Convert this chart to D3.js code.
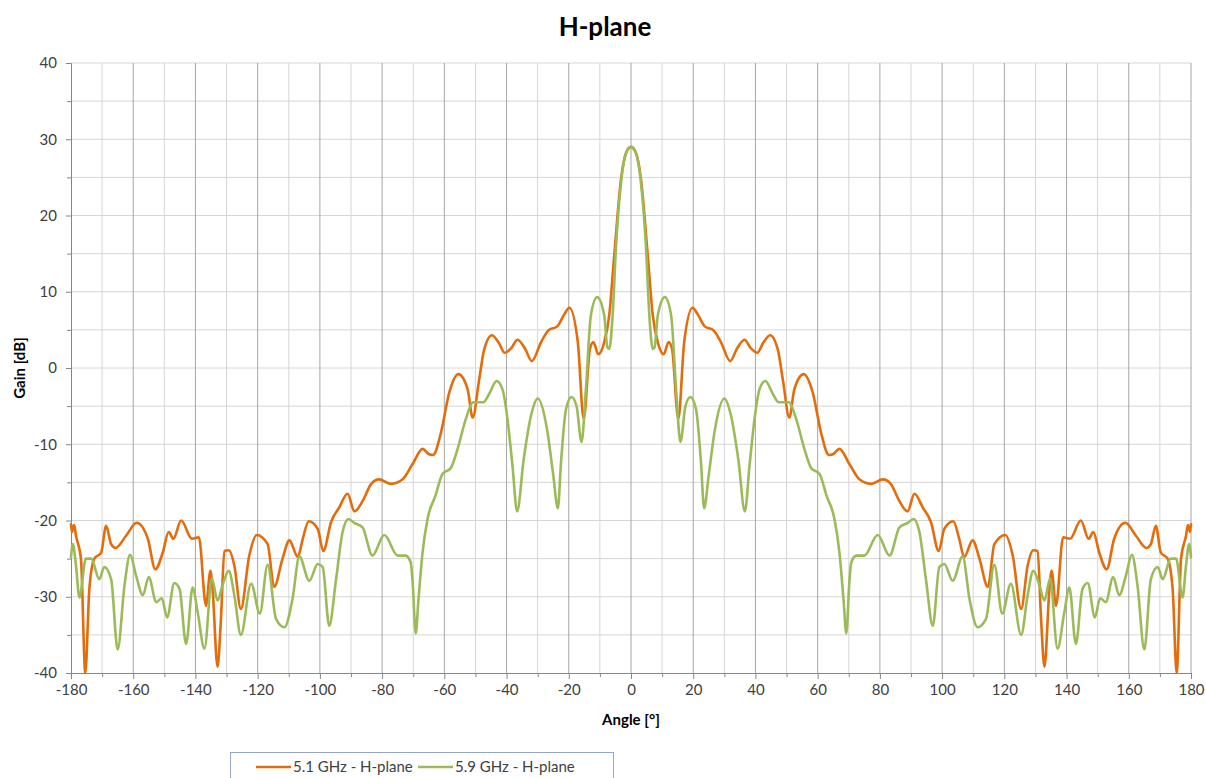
<!DOCTYPE html>
<html>
<head>
<meta charset="utf-8">
<script src="https://cdn.jsdelivr.net/npm/d3@7"></script>
<style>
  html, body { margin: 0; padding: 0; background: #fff; }
  svg { display: block; }
  text { font-family: Lato, "Open Sans", sans-serif; }
</style>
</head>
<body>
<svg id="chart" width="1206" height="778"></svg>
<script>
// ---------------- DATA ----------------
const chartTitle = "H-plane";
const xAxisTitle = "Angle [°]";
const yAxisTitle = "Gain [dB]";
const seriesNames = ["5.1 GHz - H-plane", "5.9 GHz - H-plane"];

const xTicks = [-180, -160, -140, -120, -100, -80, -60, -40, -20, 0, 20, 40, 60, 80, 100, 120, 140, 160, 180];
const yTicks = [-40, -30, -20, -10, 0, 10, 20, 30, 40];

// 5.1 GHz series
const angles51 = [
  -180, -179.7, -179, -178.4, -176.8, -175.4, -174.1, -172.5, -170.3, -168.7,
  -167.1, -165.7, -162.3, -158.9, -155.3, -152.9, -150.5, -148.6, -147.1, -144.6,
  -141.1, -138.9, -136.6, -135.2, -134.5, -132.9, -131.8, -130.7, -129.3, -127.5,
  -125.4, -122.7, -120.3, -116.8, -114.7, -112, -109.8, -107.1, -105.5, -103.6,
  -100.7, -98.9, -96.4, -93.8, -91.1, -88.9, -86.2, -83.5, -81, -77.2,
  -73.4, -70.2, -67, -64.9, -63.6, -61.1, -58.4, -55.5, -52.5, -50.9,
  -48.8, -47.2, -44.7, -42.5, -40.6, -38.5, -36.5, -34, -31.9, -28.9,
  -26.6, -23.6, -21.5, -19.8, -17.1, -15.2, -13.2, -12.1, -10.5, -8.6,
  -7, -5.4, -3.2, -1.5,
  0, 1.5, 3.2, 5.4, 7, 8.6, 10.5, 12.1, 13.2, 15.2,
  17.1, 19.8, 21.5, 23.6, 26.6, 28.9, 31.9, 34, 36.5, 38.5,
  40.6, 42.5, 44.7, 47.2, 48.8, 50.9, 52.5, 55.5, 58.4, 61.1,
  63.6, 64.9, 67, 70.2, 73.4, 77.2, 81, 83.5, 86.2, 88.9,
  91.1, 93.8, 96.4, 98.9, 100.7, 103.6, 105.5, 107.1, 109.8, 112,
  114.7, 116.8, 120.3, 122.7, 125.4, 127.5, 129.3, 130.7, 131.8, 132.9,
  134.5, 135.2, 136.6, 138.9, 141.1, 144.6, 147.1, 148.6, 150.5, 152.9,
  155.3, 158.9, 162.3, 165.7, 167.1, 168.7, 170.3, 172.5, 174.1, 175.4,
  176.8, 178.4, 179, 179.7, 180
];
const gain51 = [
  -20.5, -21.5, -20.6, -22, -25, -40, -29, -25, -24.2, -20.7,
  -23.1, -23.6, -22, -20.3, -22.4, -26.4, -24.2, -21.5, -22.4, -20,
  -22.4, -22.2, -31.2, -26.6, -29, -39.2, -32.9, -24, -23.9, -25.9,
  -31.6, -24.6, -21.9, -23.1, -28.7, -25, -22.6, -24.8, -22.4, -20.1,
  -21.1, -24, -20.2, -18.3, -16.5, -18.8, -17.4, -15.2, -14.6, -15.2,
  -14.6, -12.6, -10.6, -11.3, -11.4, -8.5, -3.2, -0.8, -2.8, -6.5,
  -1.5, 2.4, 4.3, 3.3, 2.0, 2.6, 3.7, 2.5, 0.9, 3.4,
  4.9, 5.5, 7, 7.9, 3.4, -6.7, 2.5, 3.4, 1.8, 3.4,
  6.9, 14.7, 24.8, 28.3,
  29, 28.3, 24.8, 14.7, 6.9, 3.4, 1.8, 3.4, 2.5, -6.7,
  3.4, 7.9, 7, 5.5, 4.9, 3.4, 0.9, 2.5, 3.7, 2.6,
  2.0, 3.3, 4.3, 2.4, -1.5, -6.5, -2.8, -0.8, -3.2, -8.5,
  -11.4, -11.3, -10.6, -12.6, -14.6, -15.2, -14.6, -15.2, -17.4, -18.8,
  -16.5, -18.3, -20.2, -24, -21.1, -20.1, -22.4, -24.8, -22.6, -25,
  -28.7, -23.1, -21.9, -24.6, -31.6, -25.9, -23.9, -24, -32.9, -39.2,
  -29, -26.6, -31.2, -22.2, -22.4, -20, -22.4, -21.5, -24.2, -26.4,
  -22.4, -20.3, -22, -23.6, -23.1, -20.7, -24.2, -25, -29, -40,
  -25, -22, -20.6, -21.5, -20.5
];

// 5.9 GHz series
const angles59 = [
  -180, -179.4, -178.4, -177.3, -175.2, -173.5, -170.9, -169.3, -167.1, -165,
  -162.8, -161, -159.1, -156.9, -155, -152.6, -150.8, -149.1, -146.8, -145.1,
  -143, -140.9, -139.3, -137.1, -134.7, -132.9, -131.3, -129.3, -127.5, -125.4,
  -122.1, -119.3, -116.8, -114.1, -111.4, -108.8, -106.6, -103.4, -100.7, -99.1,
  -97, -94.8, -92.7, -90.8, -89, -86.3, -83.1, -79.3, -75, -72.4,
  -70.8, -70.2, -69.2, -68.3, -67, -65.4, -62.9, -60.6, -57.9, -55.8,
  -53.1, -50.7, -47.5, -45.6, -43.2, -41.3, -39.7, -38.1, -36.6, -34.5,
  -32, -30, -27, -25, -23.5, -22.5, -20.9, -19.1, -17.5, -15.9,
  -14.5, -12.9, -10.9, -8.6, -7.6, -7, -5.9, -4.8, -3.2, -1.5,
  0, 1.5, 3.2, 4.8, 5.9, 7, 7.6, 8.6, 10.9, 12.9,
  14.5, 15.9, 17.5, 19.1, 20.9, 22.5, 23.5, 25, 27, 30,
  32, 34.5, 36.6, 38.1, 39.7, 41.3, 43.2, 45.6, 47.5, 50.7,
  53.1, 55.8, 57.9, 60.6, 62.9, 65.4, 67, 68.3, 69.2, 70.2,
  70.8, 72.4, 75, 79.3, 83.1, 86.3, 89, 90.8, 92.7, 94.8,
  97, 99.1, 100.7, 103.4, 106.6, 108.8, 111.4, 114.1, 116.8, 119.3,
  122.1, 125.4, 127.5, 129.3, 131.3, 132.9, 134.7, 137.1, 139.3, 140.9,
  143, 145.1, 146.8, 149.1, 150.8, 152.6, 155, 156.9, 159.1, 161,
  162.8, 165, 167.1, 169.3, 170.9, 173.5, 175.2, 177.3, 178.4, 179.4,
  180
];
const gain59 = [
  -24.8, -23.1, -25.9, -30.1, -25, -25, -27.7, -26.1, -27.7, -36.9,
  -28.5, -24.5, -27.2, -29.8, -27.4, -30.7, -30.2, -32.7, -28.2, -29,
  -36.2, -28.8, -32, -36.8, -27.6, -30.5, -28.5, -26.6, -29.8, -35,
  -28.3, -32.2, -25.8, -32.9, -34, -30.3, -24.7, -27.9, -25.7, -26.1,
  -33.8, -27.7, -21.5, -19.8, -20.3, -20.9, -24.6, -21.9, -24.6, -24.6,
  -25.5, -28, -34.8, -30.3, -24.2, -19.8, -16.8, -13.9, -13.1, -10.7,
  -6.7, -4.5, -4.5, -3.4, -1.7, -2.8, -6.7, -12.8, -18.8, -12,
  -6, -4, -8, -14, -18.4, -12.4, -5.4, -3.8, -5, -9.7,
  -2.8, 6.9, 9.3, 6.9, 2.7, 2.5, 6.9, 16, 24.3, 28.3,
  29, 28.3, 24.3, 16, 6.9, 2.5, 2.7, 6.9, 9.3, 6.9,
  -2.8, -9.7, -5, -3.8, -5.4, -12.4, -18.4, -14, -8, -4,
  -6, -12, -18.8, -12.8, -6.7, -2.8, -1.7, -3.4, -4.5, -4.5,
  -6.7, -10.7, -13.1, -13.9, -16.8, -19.8, -24.2, -30.3, -34.8, -28,
  -25.5, -24.6, -24.6, -21.9, -24.6, -20.9, -20.3, -19.8, -21.5, -27.7,
  -33.8, -26.1, -25.7, -27.9, -24.7, -30.3, -34, -32.9, -25.8, -32.2,
  -28.3, -35, -29.8, -26.6, -28.5, -30.5, -27.6, -36.8, -32, -28.8,
  -36.2, -29, -28.2, -32.7, -30.2, -30.7, -27.4, -29.8, -27.2, -24.5,
  -28.5, -36.9, -27.7, -26.1, -27.7, -25, -25, -30.1, -25.9, -23.1,
  -24.8
];

// ---------------- LAYOUT / STYLE ----------------
const W = 1206, H = 778;
const margin = { left: 71, right: 15, top: 63, bottom: 105 };
const colors = ["#E46C0A", "#9BBB59"];
const FONT = "Lato, 'Open Sans', sans-serif";

const svg = d3.select("#chart");
const x = d3.scaleLinear().domain([-180, 180]).range([margin.left, W - margin.right]);
const y = d3.scaleLinear().domain([-40, 40]).range([H - margin.bottom, margin.top]);

const x0 = x.range()[0], x1 = x.range()[1];
const yTop = y.range()[1], yBot = y.range()[0];

// Horizontal gridlines (major every 10, minor every 5)
const hGrid = d3.range(-35, 45, 5);
svg.append("g").selectAll("line").data(hGrid).join("line")
  .attr("x1", x0).attr("x2", x1)
  .attr("y1", d => y(d)).attr("y2", d => y(d))
  .attr("stroke", "#D6D6D6").attr("stroke-width", 1);

// Vertical gridlines: minor at odd tens (lighter), major at multiples of 20 (darker)
const vMinor = d3.range(-170, 180, 20);
svg.append("g").selectAll("line").data(vMinor).join("line")
  .attr("x1", d => x(d)).attr("x2", d => x(d))
  .attr("y1", yTop).attr("y2", yBot)
  .attr("stroke", "#D6D6D6").attr("stroke-width", 1);
const vMajor = xTicks.filter(d => d > -180);
svg.append("g").selectAll("line").data(vMajor).join("line")
  .attr("x1", d => x(d)).attr("x2", d => x(d))
  .attr("y1", yTop).attr("y2", yBot)
  .attr("stroke", "#A6A6A6").attr("stroke-width", 1);

// Axes
const xAxis = d3.axisBottom(x).tickValues(xTicks).tickSize(6).tickPadding(5).tickFormat(d3.format("d"));
const gx = svg.append("g").attr("transform", `translate(0,${yBot})`).call(xAxis);
gx.select(".domain").attr("stroke", "#868686");
gx.selectAll(".tick line").attr("stroke", "#868686");
gx.selectAll(".tick text").attr("font-size", 15).attr("fill", "#404040")
  .attr("font-family", FONT).text(d => d < 0 ? "-" + Math.abs(d) : d);

// minor x ticks
const xMinorAxis = d3.axisBottom(x).tickValues(vMinor).tickSize(4).tickFormat("");
const gxm = svg.append("g").attr("transform", `translate(0,${yBot})`).call(xMinorAxis);
gxm.select(".domain").remove();
gxm.selectAll(".tick line").attr("stroke", "#868686");

const yAxis = d3.axisLeft(y).tickValues(yTicks).tickSize(5).tickPadding(9).tickFormat(d3.format("d"));
const gy = svg.append("g").attr("transform", `translate(${x0},0)`).call(yAxis);
gy.select(".domain").attr("stroke", "#868686");
gy.selectAll(".tick line").attr("stroke", "#868686");
gy.selectAll(".tick text").attr("font-size", 15).attr("fill", "#404040")
  .attr("font-family", FONT).text(d => d < 0 ? "-" + Math.abs(d) : d);

const yMinorAxis = d3.axisLeft(y).tickValues(d3.range(-35, 40, 10)).tickSize(4).tickFormat("");
const gym = svg.append("g").attr("transform", `translate(${x0},0)`).call(yMinorAxis);
gym.select(".domain").remove();
gym.selectAll(".tick line").attr("stroke", "#868686");

// Series lines
const line = d3.line().x(d => x(d[0])).y(d => y(d[1])).curve(d3.curveMonotoneX);
const series = [d3.zip(angles51, gain51), d3.zip(angles59, gain59)];
const gLines = svg.append("g");
series.forEach((s, i) => {
  gLines.append("path").datum(s)
    .attr("d", line)
    .attr("fill", "none")
    .attr("stroke", colors[i])
    .attr("stroke-width", 2.6)
    .attr("stroke-linejoin", "round")
    .attr("stroke-linecap", "round");
});

// Titles
svg.append("text").attr("x", 605).attr("y", 36).attr("text-anchor", "middle")
  .attr("font-size", 26).attr("font-weight", "bold").attr("fill", "#000").text(chartTitle);
svg.append("text").attr("x", 631).attr("y", 725).attr("text-anchor", "middle")
  .attr("font-size", 15).attr("font-weight", "bold").attr("fill", "#000").text(xAxisTitle);
svg.append("text").attr("transform", "translate(25,368) rotate(-90)").attr("text-anchor", "middle")
  .attr("font-size", 15).attr("font-weight", "bold").attr("fill", "#000").text(yAxisTitle);

// Legend
const lg = svg.append("g");
lg.append("rect").attr("x", 230.5).attr("y", 752.5).attr("width", 383).attr("height", 40)
  .attr("fill", "#fff").attr("stroke", "#95A8CC").attr("stroke-width", 1);
const legendX = [256, 418];
seriesNames.forEach((name, i) => {
  lg.append("line").attr("x1", legendX[i]).attr("x2", legendX[i] + 35)
    .attr("y1", 767).attr("y2", 767).attr("stroke", colors[i]).attr("stroke-width", 2.6);
  lg.append("text").attr("x", legendX[i] + 37).attr("y", 772)
    .attr("font-size", 15).attr("fill", "#404040").text(name);
});
</script>
</body>
</html>
